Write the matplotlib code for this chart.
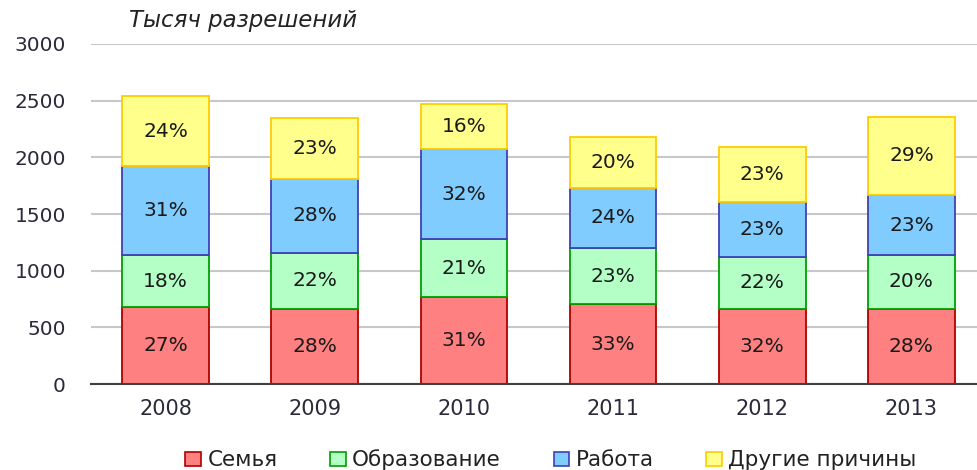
import matplotlib
matplotlib.use("Agg")
import matplotlib.pyplot as plt
from matplotlib.patches import Patch
import numpy as np

years = ["2008", "2009", "2010", "2011", "2012", "2013"]
series_names = ["Семья", "Образование", "Работа", "Другие причины"]
family = [677, 665, 765, 703, 665, 665]
education = [459, 494, 512, 495, 456, 471]
work = [788, 650, 797, 535, 483, 532]
other = [615, 539, 400, 450, 491, 692]
labels_family = ["27%", "28%", "31%", "33%", "32%", "28%"]
labels_education = ["18%", "22%", "21%", "23%", "22%", "20%"]
labels_work = ["31%", "28%", "32%", "24%", "23%", "23%"]
labels_other = ["24%", "23%", "16%", "20%", "23%", "29%"]
yticks = [0, 500, 1000, 1500, 2000, 2500, 3000]
title = "Тысяч разрешений"

fills = ["#FF8080", "#B3FFC6", "#80CCFF", "#FFFF8C"]
edges = ["#B00000", "#00A000", "#4040B8", "#FFCC00"]

plt.rcParams['font.family'] = ['DejaVu Sans']

fig = plt.figure(figsize=(9.77, 4.70), dpi=100)
ax = fig.add_axes([91/977, (470-384)/470, 1 - 91/977, (384-44)/470])

x = np.arange(len(years))
data = [family, education, work, other]
labels = [labels_family, labels_education, labels_work, labels_other]
bottom = np.zeros(len(years))
for vals, lab, fc, ec in zip(data, labels, fills, edges):
    vals = np.array(vals, dtype=float)
    ax.bar(x, vals, width=0.58, bottom=bottom, color=fc, edgecolor=ec,
           linewidth=1.3, zorder=3)
    for xi, b, v, t in zip(x, bottom, vals, lab):
        ax.text(xi, b + v / 2, t, ha='center', va='center', fontsize=14.5,
                color='#1a1a1a', zorder=4)
    bottom += vals

ax.set_ylim(0, 3000)
ax.set_xlim(-0.5, 5.5 - 9/149.3)
ax.set_yticks(yticks)
ax.set_yticklabels([str(t) for t in yticks], fontsize=14.5, color='#2a2a3a')
ax.set_xticks(x)
ax.set_xticklabels(years, fontsize=15, color='#2a2a3a')
ax.tick_params(axis='y', length=0, pad=18)
ax.tick_params(axis='x', length=0, pad=11)
ax.yaxis.grid(True, color='#C8C8C8', linewidth=1.5, zorder=0)
ax.set_axisbelow(True)
for s in ['top', 'right', 'left']:
    ax.spines[s].set_visible(False)
ax.spines['bottom'].set_color('#404040')
ax.spines['bottom'].set_linewidth(1.5)
ax.spines['bottom'].set_zorder(5)

fig.text(129/977, 1 - 21/470, title, fontsize=16.5, style='italic',
         color='#222222', ha='left', va='center')

handles = [Patch(facecolor=fc, edgecolor=ec, linewidth=1.2) for fc, ec in zip(fills, edges)]
fig.legend(handles, series_names, loc='center', bbox_to_anchor=(551/977, 1 - 460/470),
           ncol=4, frameon=False, handlelength=0.72, handleheight=0.58,
           handletextpad=0.3, columnspacing=2.45, labelcolor='#222222',
           prop={'family': 'DejaVu Sans', 'size': 15.5})

fig.savefig("out.png", dpi=100)
